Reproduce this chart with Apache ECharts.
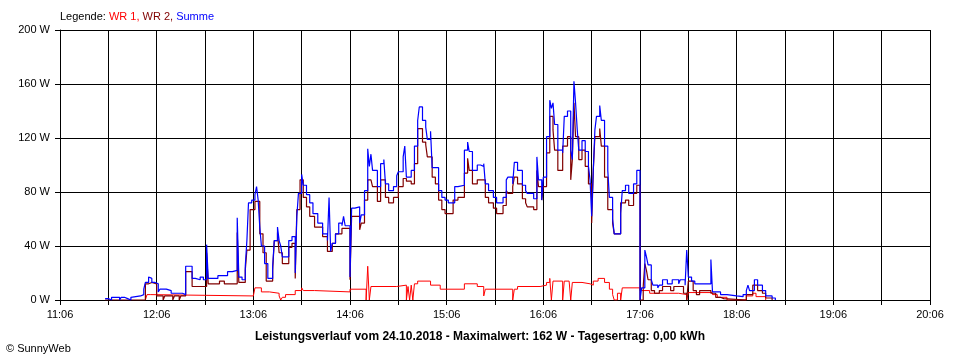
<!DOCTYPE html>
<html><head><meta charset="utf-8">
<script src="https://cdn.jsdelivr.net/npm/echarts@6/dist/echarts.min.js"></script>
<style>html,body{margin:0;padding:0;background:#fff}#c{width:960px;height:360px}</style>
</head><body><div id="c"></div>
<script>
// ---- axis ticks ----
const startClock = '11:06';
const xTickLabels = ['11:06','12:06','13:06','14:06','15:06','16:06','17:06','18:06','19:06','20:06'];
const yMax = 200, yStep = 40;

// ---- Summe (blue) ----
const sumTimes = ['11:34','11:36','11:37','11:38','11:40','11:41','11:43','11:44','11:46','11:48','11:49','11:50','11:51','11:56','11:58','11:59',
'12:01','12:02','12:03','12:05','12:07','12:08','12:12','12:15','12:22','12:24','12:28','12:30','12:33','12:35','12:37','12:38','12:44','12:50','12:53','12:56','12:57','12:59',
'13:01','13:02','13:03','13:05','13:07','13:08','13:09','13:10','13:11','13:13','13:15','13:18','13:19','13:21','13:22','13:23','13:24','13:28','13:30','13:32','13:33','13:34','13:36','13:37','13:39','13:41','13:43','13:46','13:49','13:52','13:53','13:54','13:55','13:57','13:59',
'14:01','14:02','14:03','14:06','14:07','14:09','14:12','14:13','14:15','14:17','14:18','14:19','14:20','14:23','14:25','14:27','14:28','14:30','14:33','14:35','14:36','14:39','14:40','14:41','14:44','14:46','14:48','14:49','14:51','14:53','14:54','14:56','14:57',
'15:01','15:03','15:05','15:07','15:11','15:13','15:17','15:19','15:20','15:22','15:25','15:27','15:29','15:30','15:32','15:35','15:37','15:41','15:43','15:44','15:47','15:48','15:50','15:53','15:55','15:56',
'16:00','16:02','16:03','16:05','16:06','16:08','16:10','16:11','16:12','16:13','16:15','16:18','16:19','16:21','16:23','16:24','16:25','16:26','16:27','16:28','16:30','16:32','16:34','16:35','16:36','16:37','16:38','16:39','16:41','16:42','16:44','16:46','16:47','16:49','16:50','16:54','16:55','16:57','16:59',
'17:02','17:04','17:06','17:07','17:09','17:10','17:11','17:13','17:14','17:17','17:18','17:20','17:23','17:26','17:30','17:31','17:34','17:35','17:36','17:38','17:40','17:50','17:51','17:56',
'18:00','18:06','18:10','18:12','18:13','18:14','18:17','18:19','18:22','18:24','18:28','18:30'];
const sumValues = [1,2,0,2,1,2,0,2,1,2,0,2,3,4,8,13,
17,16,13,12,6,8,7,5,4,25,16,15,17,15,41,16,18,21,22,61,17,15,
25,44,72,74,78,84,74,54,40,27,16,25,44,54,44,40,32,44,47,20,62,79,93,85,78,72,64,57,49,44,76,36,42,49,57,
55,62,55,17,68,69,57,63,81,112,99,108,96,84,101,104,86,81,84,92,95,106,114,91,96,114,133,143,133,128,119,125,98,
81,76,74,72,84,85,111,117,110,96,100,99,101,86,81,76,72,76,89,91,86,102,96,85,81,79,
75,106,89,74,91,121,148,142,146,130,111,109,136,140,111,104,162,146,127,111,118,110,99,89,62,96,126,136,144,133,114,96,76,60,49,64,81,85,79,
86,96,0,9,37,32,26,15,11,9,11,15,12,15,12,15,11,37,17,14,12,30,6,4,
3,2.5,4,7,11,7,15,11,7,3,1.5,0];

// ---- WR 2 (dark red) ----
const wr2Times = ['11:34','11:59','12:01','12:03','12:06','12:10','12:11','12:16','12:17','12:20','12:21','12:24','12:28','12:37','12:38','12:45','12:48','12:56','12:57',
'13:01','13:02','13:04','13:07','13:10','13:12','13:14','13:18','13:19','13:21','13:22','13:24','13:28','13:30','13:32','13:33','13:35','13:37','13:39','13:41','13:44','13:49','13:52','13:55','13:57',
'14:01','14:06','14:07','14:12','14:13','14:15','14:17','14:19','14:20','14:23','14:25','14:28','14:30','14:33','14:36','14:39','14:41','14:44','14:46','14:48','14:51','14:53','14:54','14:57','14:59',
'15:01','15:03','15:05','15:10','15:13','15:17','15:19','15:20','15:22','15:25','15:30','15:32','15:35','15:37','15:41','15:43','15:44','15:47','15:48','15:50','15:53','15:55','15:56',
'16:00','16:02','16:03','16:05','16:06','16:08','16:10','16:12','16:13','16:15','16:18','16:21','16:23','16:24','16:25','16:26','16:28','16:30','16:32','16:34','16:36','16:37','16:38','16:41','16:42','16:44','16:46','16:49','16:50','16:54','16:57','16:59',
'17:02','17:04','17:06','17:08','17:09','17:10','17:11','17:13','17:15','17:18','17:20','17:25','17:27','17:33','17:35','17:36','17:39','17:41','17:43','17:50','17:53','17:56','17:58',
'18:12','18:16','18:19','18:22','18:24','18:28'];
const wr2Values = [0,12,13,12,3,0,3,0,3,0,3,21,10,35,12,14,12,50,13,
22,37,67,73,49,35,14,22,44,50,35,27,39,42,16,67,89,76,69,62,54,47,36,42,49,
53,15,62,52,57,74,89,90,84,73,89,76,72,76,84,90,88,86,101,127,117,115,106,91,86,
74,67,64,74,76,94,105,96,86,89,76,72,68,64,70,81,79,84,91,86,75,72,69,
67,96,84,74,84,109,136,126,111,96,114,121,89,104,146,121,104,111,99,86,57,96,121,127,114,91,67,57,49,72,74,70,
79,85,0,10,27,22,15,7,5,7,10,7,10,5,0,14,7,4,7,5,2,1,0,
4,11,7,5,1.5,0];

// ---- WR 1 (red) ----
const wr1Times = ['11:59','12:00','12:02','13:06','13:07','13:11','13:16','13:22','13:23','13:24','13:26','13:32','13:36','13:37','13:44',
'14:06','14:16','14:17','14:18','14:19','14:35','14:41','14:42','14:43','14:44','14:45','14:46','14:48','14:56',
'15:02','15:17','15:25','15:29','15:30','15:47','15:48','15:50',
'16:04','16:08','16:10','16:11','16:12','16:18','16:19','16:22','16:23','16:24','16:30','16:35','16:37','16:40','16:44','16:47','16:49','16:50','16:52','16:54','16:55',
'17:06','17:12','17:30','17:35','17:36','17:51','17:54','18:00','18:12','18:16','18:18','18:24'];
const wr1Values = [0,4,3,4,9,6,5,3,0,2,4,7,9,7,6,
8,0,25,0,10,11,0,10,0,11,0,12,14,11,
8,12,10,3,8,0,8,10,
11,13,16,0,14,0,14,13,0,13,12,11,14,16,13,8,4,0,5,0,9,
7,5,4,0,5.5,4,2,0,3,5,2.5,0];

// ---- build ----
function clockToMin(s){const p=s.split(':');return (+p[0])*60+(+p[1]);}
const startMin = clockToMin(startClock);
const toPairs = (t,v) => t.map((s,i)=>[clockToMin(s)-startMin, v[i]]);
const FONT = '"Liberation Sans", Arial, sans-serif';

const chart = echarts.init(document.getElementById('c'), null, {renderer:'canvas'});
chart.setOption({
  animation:false,
  backgroundColor:'#ffffff',
  grid:{left:60,right:30,top:30,bottom:60,containLabel:false},
  xAxis:{
    type:'value', min:0, max:(xTickLabels.length-1)*60, interval:30,
    axisLine:{show:true,lineStyle:{color:'#000',width:1}},
    axisTick:{show:true,length:5,lineStyle:{color:'#000',width:1}},
    splitLine:{show:true,lineStyle:{color:'#000',width:1}},
    axisLabel:{margin:9,color:'#000',fontSize:11,fontFamily:FONT,
      formatter:v=> (v%60===0 ? xTickLabels[v/60] : '')}
  },
  yAxis:{
    type:'value', min:0, max:yMax, interval:yStep,
    axisLine:{show:true,lineStyle:{color:'#000',width:1}},
    axisTick:{show:true,length:5,lineStyle:{color:'#000',width:1}},
    splitLine:{show:true,lineStyle:{color:'#000',width:1}},
    axisLabel:{margin:10,color:'#000',fontSize:11,fontFamily:FONT,formatter:'{value} W'}
  },
  series:[
    {name:'WR 1',type:'line',step:'end',symbol:'none',data:toPairs(wr1Times,wr1Values),lineStyle:{color:'#ff0000',width:1},z:3},
    {name:'WR 2',type:'line',step:'end',symbol:'none',data:toPairs(wr2Times,wr2Values),lineStyle:{color:'#800000',width:1.2},z:4},
    {name:'Summe',type:'line',step:'end',symbol:'none',data:toPairs(sumTimes,sumValues),lineStyle:{color:'#0000ff',width:1.2},z:5}
  ],
  graphic:[
    {type:'text',left:60,top:11,style:{
      text:'{k|Legende: }{r|WR 1, }{d|WR 2, }{b|Summe}',
      font:'11px '+FONT,
      rich:{k:{fill:'#000',fontSize:11,fontFamily:FONT},r:{fill:'#ff0000',fontSize:11,fontFamily:FONT},
            d:{fill:'#800000',fontSize:11,fontFamily:FONT},b:{fill:'#0000ff',fontSize:11,fontFamily:FONT}}
    }},
    {type:'text',x:480,y:337,style:{
      text:'Leistungsverlauf vom 24.10.2018 - Maximalwert: 162 W - Tagesertrag: 0,00 kWh',
      fill:'#000',font:'bold 12px '+FONT,textAlign:'center',textVerticalAlign:'middle'}},
    {type:'text',x:6,y:349,style:{
      text:'© SunnyWeb',fill:'#000',font:'11px '+FONT,textAlign:'left',textVerticalAlign:'middle'}}
  ]
});
</script></body></html>
